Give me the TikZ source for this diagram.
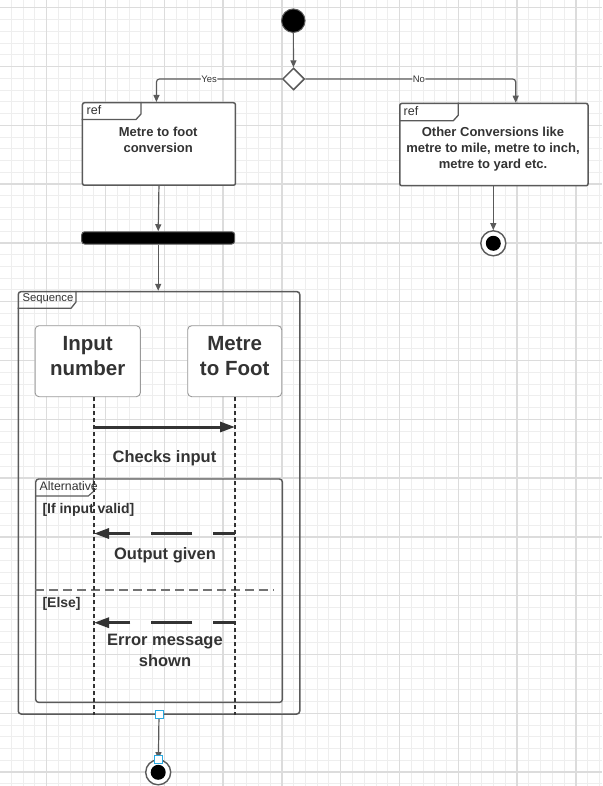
\documentclass[tikz,border=0pt]{standalone}
\usepackage{fontspec}
\setmainfont{Liberation Sans}
\usetikzlibrary{shapes.geometric,arrows.meta}
\definecolor{txt}{HTML}{333333}
\definecolor{ln}{HTML}{5A5A5A}
\definecolor{gmin}{HTML}{EEEEEE}
\definecolor{gmaj}{HTML}{DCDCDC}
\definecolor{sel}{HTML}{29A8E0}
\definecolor{pbord}{HTML}{9A9A9A}
\newcommand\myfs[2]{\fontsize{#1}{#2}\selectfont}
\begin{document}
\begin{tikzpicture}[x=1pt,y=-1pt,
  conn/.style={draw=ln,line width=1.2pt,-{Triangle[length=7pt,width=6pt]}},
  refbox/.style={draw=ln,line width=1.5pt,rounded corners=2pt,fill=white,inner sep=0pt,anchor=north west},
  tagline/.style={draw=ln,line width=1.3pt},
  frm/.style={draw=ln,line width=1.5pt,rounded corners=3pt,inner sep=0pt,anchor=north west},
  pbox/.style={draw=pbord,line width=0.9pt,rounded corners=4pt,fill=white,inner sep=0pt},
  ptxt/.style={align=center,text=txt,font=\bfseries\myfs{20.5}{25},inner sep=0pt},
  boxtxt/.style={align=center,text=txt,font=\bfseries\myfs{13}{15.7},inner sep=0pt},
  tagtxt/.style={anchor=west,text=txt,inner sep=0pt},
  lbl/.style={align=center,text=txt,font=\bfseries\myfs{16.5}{20.5},inner sep=0pt},
  guard/.style={anchor=west,text=txt,font=\bfseries\myfs{14}{16},inner sep=0pt},
  lifeline/.style={draw=txt,line width=1.2pt,dash pattern=on 4pt off 3pt},
  callmsg/.style={draw=txt,line width=3pt,-{Triangle[length=15pt,width=10pt]}},
  retmsg/.style={draw=txt,line width=3pt,dash pattern=on 41pt off 21pt,dash phase=19.3pt,-{Triangle[length=15pt,width=10pt]}},
  endnode/.style={circle,draw=ln,line width=1.4pt,fill=white,minimum size=25pt,inner sep=0pt,
     path picture={\fill[black] (path picture bounding box.center) circle (7.5pt);}},
  handle/.style={draw=sel,fill=white,line width=1pt,minimum size=8pt,inner sep=0pt}
]
\useasboundingbox (0,0) rectangle (602,786);
\fill[white] (0,0) rectangle (602,786);
% grid
\foreach \k in {1,...,51}{\draw[gmin,line width=0.9pt] ({-0.34+11.76*\k},0) -- ({-0.34+11.76*\k},786);}
\foreach \k in {0,...,66}{\draw[gmin,line width=0.9pt] (0,{7.7+11.76*\k}) -- (602,{7.7+11.76*\k});}
\foreach \k in {0,...,9}{\draw[gmaj,line width=1.3pt] ({46.7+58.8*\k},0) -- ({46.7+58.8*\k},786);}
\foreach \k in {0,...,13}{\draw[gmaj,line width=1.3pt] (0,{7.7+58.8*\k}) -- (602,{7.7+58.8*\k});}

% start and decision
\node[circle,fill=black,draw=ln,line width=1pt,minimum size=23.5pt,inner sep=0pt] (start) at (293.3,20.7) {};
\node[diamond,draw=ln,line width=1.5pt,fill=white,minimum width=22pt,minimum height=22pt,inner sep=0pt] (dec) at (293.5,79) {};
\draw[conn] (start) -- (dec);

% ref boxes
\node[refbox,minimum width=153pt,minimum height=82.5pt] (ref1) at (81.7,102) {};
\draw[tagline] ([shift={(0,17.5)}]ref1.north west) -- ++(54.3,0) -- ++(5,-5.5) -- ++(0,-12);
\node[tagtxt,font=\myfs{12.5}{14}] (ref1tag) at (86.5,110.5) {ref};
\node[boxtxt] (ref1txt) at (158.2,139.8) {Metre to foot\\conversion};

\node[refbox,minimum width=188.3pt,minimum height=82.3pt] (ref2) at (399,102.7) {};
\draw[tagline] ([shift={(0,18)}]ref2.north west) -- ++(54.3,0) -- ++(5,-5.5) -- ++(0,-12.5);
\node[tagtxt,font=\myfs{12.5}{14}] (ref2tag) at (403.5,111) {ref};
\node[boxtxt] (ref2txt) at (493,149) {Other Conversions like\\metre to mile, metre to inch,\\metre to yard etc.};

\draw[conn,rounded corners=3pt] (dec.west) -| ([xshift=-2.5pt]ref1.north)
  node[pos=0.29,fill=white,inner sep=0.5pt,text=txt,font=\myfs{9.5}{11}] (yes) {Yes};
\draw[conn,rounded corners=3pt] (dec.east) -| ([xshift=21.8pt]ref2.north)
  node[pos=0.27,fill=white,inner sep=0.5pt,text=txt,font=\myfs{9.5}{11}] (no) {No};

\node[endnode] (end2) at (493.3,243.3) {};
\draw[conn] (ref2.south -| end2) -- (end2);

% fork bar
\node[draw=ln,line width=1pt,fill=black,rounded corners=3pt,minimum width=153pt,minimum height=12.3pt,inner sep=0pt] (bar) at (158.2,237.9) {};
\draw[conn] (ref1.south) -- (bar.north);

% sequence frame
\node[frm,minimum width=281.5pt,minimum height=422.5pt] (seq) at (17.5,290.8) {};
\draw[tagline] ([shift={(0,17.5)}]seq.north west) -- ++(53.5,0) -- ++(5,-6.3) -- ++(0,-11.2);
\node[tagtxt,font=\myfs{11.3}{13}] (seqtag) at (22.3,299) {Sequence};
\draw[conn] (bar.south) -- (bar.south |- seq.north);

% participants
\node[pbox,minimum width=105.3pt,minimum height=71pt] (pin) at (87.7,361.2) {};
\node[ptxt] (pintxt) at (87.7,355.8) {Input\\number};
\node[pbox,minimum width=94pt,minimum height=71pt] (pmf) at (234.7,361.2) {};
\node[ptxt] (pmftxt) at (234.7,355.8) {Metre\\to Foot};
\coordinate (l1top) at ([xshift=6.3pt]pin.south);
\coordinate (l2top) at ([xshift=0.3pt]pmf.south);
\coordinate (l1bot) at (l1top |- seq.south);
\coordinate (l2bot) at (l2top |- seq.south);

% alternative frame
\node[frm,line width=1.4pt,minimum width=246.7pt,minimum height=223.4pt] (alt) at (35,478.3) {};
\draw[tagline,line width=1.1pt] ([shift={(0,17.7)}]alt.north west) -- ++(53.3,0) -- ++(5,-4.4) -- ++(0,-13.3);
\node[tagtxt,font=\myfs{12.3}{14}] (alttag) at (39.5,486.5) {Alternative};
\coordinate (sepl) at (35,590);
\coordinate (sepr) at (273.5,590);
\draw[draw=ln!85,line width=1.3pt,dash pattern=on 9pt off 5pt] (sepl) -- (sepr);
\node[guard] (g1) at (42.3,509.5) {[If input valid]};
\node[guard] (g2) at (42.3,604) {[Else]};

% lifelines
\draw[lifeline] (l1top) -- (l1bot);
\draw[lifeline] (l2top) -- (l2bot);

% messages
\coordinate (m1a) at (l1top |- 0,427);
\coordinate (m1b) at (l2top |- 0,427);
\draw[callmsg] (m1a) -- (m1b);
\node[lbl] (m1l) at (164.5,458.5) {Checks input};

\coordinate (m2a) at (l2top |- 0,533.5);
\coordinate (m2b) at (l1top |- 0,533.5);
\draw[retmsg] (m2a) -- (m2b);
\node[lbl] (m2l) at (165,555) {Output given};

\coordinate (m3a) at (l2top |- 0,622.7);
\coordinate (m3b) at (l1top |- 0,622.7);
\draw[retmsg] (m3a) -- (m3b);
\node[lbl] (m3l) at (165,650.5) {Error message\\shown};

% final
\node[endnode] (end1) at (158.2,772.3) {};
\draw[conn] (seq.south) -- (end1);
\node[handle] (h1) at (seq.south) {};
\node[handle] (h2) at (158.2,759.3) {};
\end{tikzpicture}
\end{document}
